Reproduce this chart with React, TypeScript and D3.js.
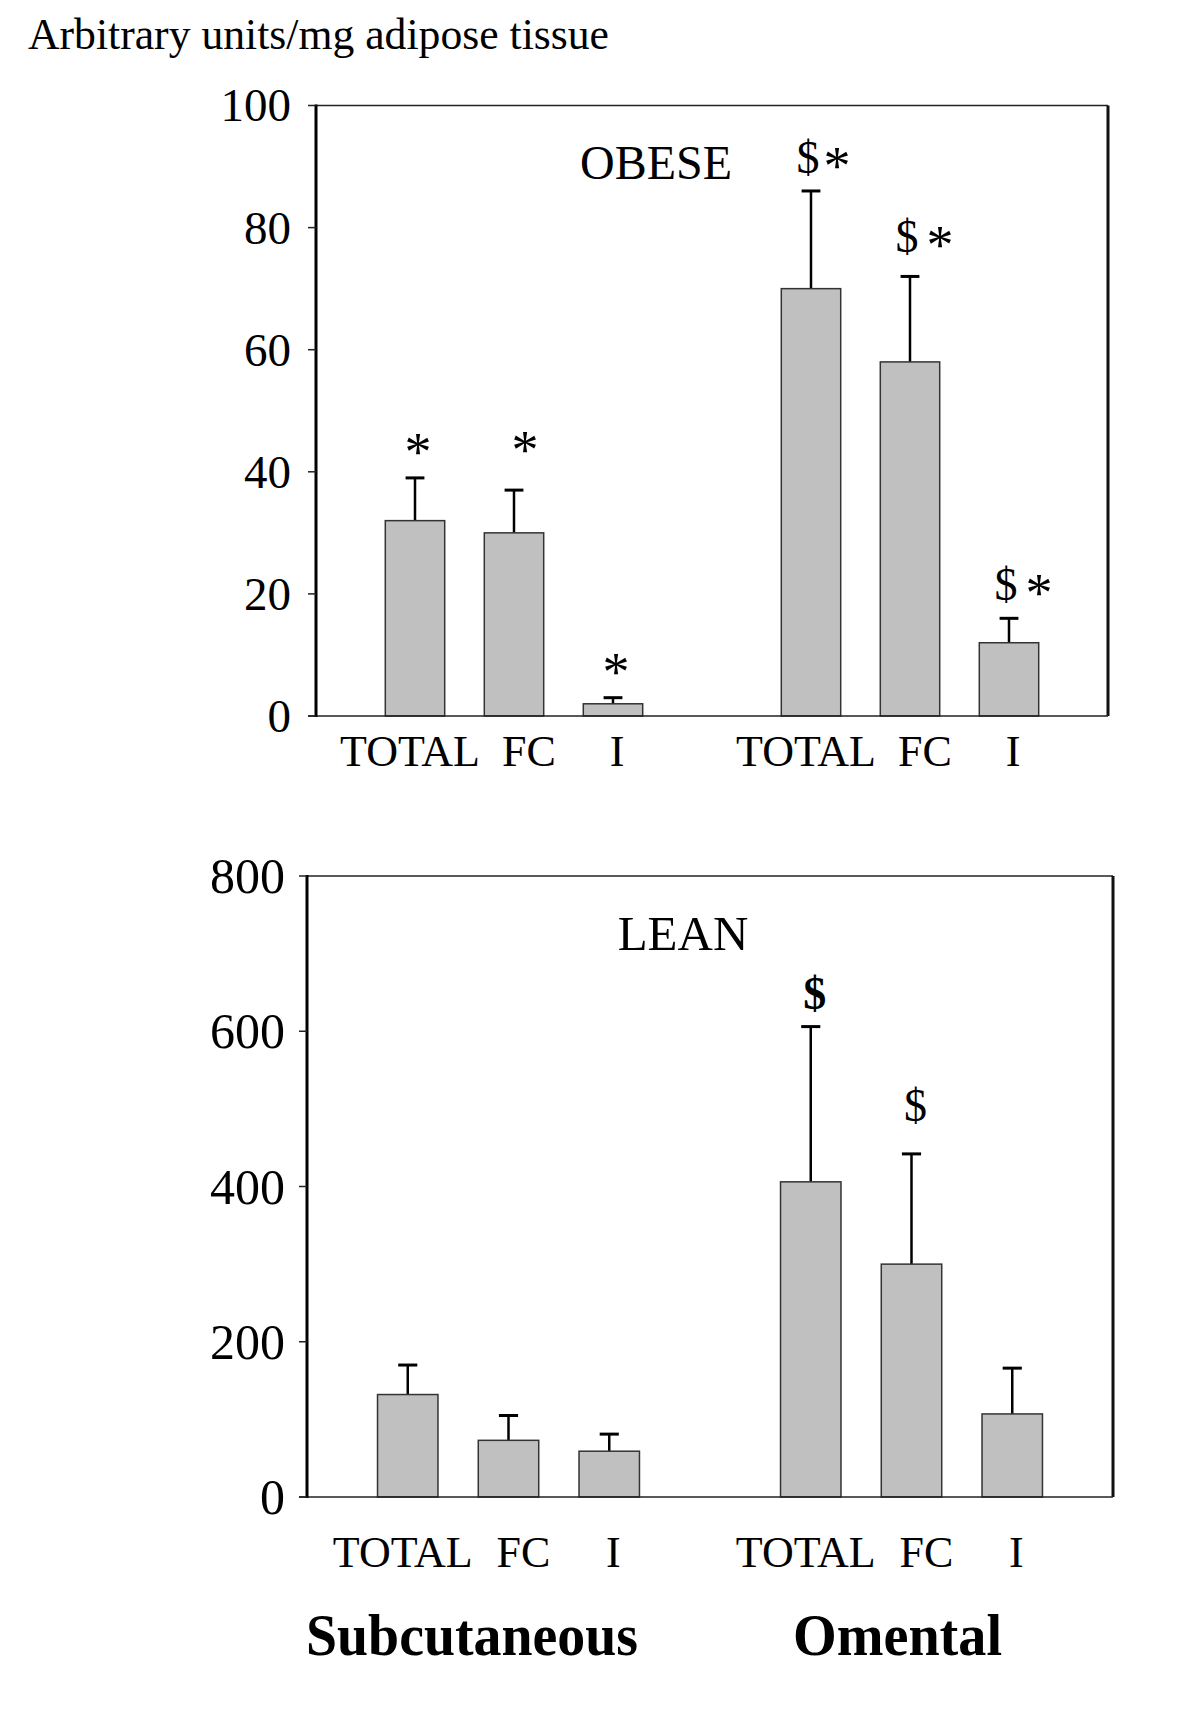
import React from "react";
import * as d3 from "d3";

// ---- data ----
const categories = ["TOTAL", "FC", "I"];
const depots = ["Subcutaneous", "Omental"];
const yAxisTitle = "Arbitrary units/mg adipose tissue";

const obeseTicks = [0, 20, 40, 60, 80, 100];
const obeseSubcut = [32, 30, 2];
const obeseSubcutErr = [7, 7, 1];
const obeseOmental = [70, 58, 12];
const obeseOmentalErr = [16, 14, 4];
const obeseSubcutSig = ["*", "*", "*"];
const obeseOmentalSig = ["$*", "$ *", "$ *"];

const leanTicks = [0, 200, 400, 600, 800];
const leanSubcut = [132, 73, 59];
const leanSubcutErr = [38, 32, 22];
const leanOmental = [406, 300, 107];
const leanOmentalErr = [200, 142, 59];
const leanSubcutSig = ["", "", ""];
const leanOmentalSig = ["$b", "$", ""];

// ---- layout ----
const FONT = "'Liberation Serif', 'Times New Roman', serif";

type PanelCfg = {
  name: string;
  nameX: number;
  nameY: number;
  nameSize: number;
  left: number;
  right: number;
  top: number;
  bottom: number;
  max: number;
  ticks: number[];
  tickSize: number;
  tickLabelGap: number;
  labelY: number;
  values: number[][];
  errs: number[][];
  sigs: string[][];
  sigNudgeY: number[][];
};

const panels: PanelCfg[] = [
  {
    name: "OBESE",
    nameX: 656,
    nameY: 179,
    nameSize: 48,
    left: 316,
    right: 1108,
    top: 105.5,
    bottom: 716,
    max: 100,
    ticks: obeseTicks,
    tickSize: 47,
    tickLabelGap: 25,
    labelY: 766,
    values: [obeseSubcut, obeseOmental],
    errs: [obeseSubcutErr, obeseOmentalErr],
    sigs: [obeseSubcutSig, obeseOmentalSig],
    sigNudgeY: [
      [0, -14, 0],
      [0, -6, 0],
    ],
  },
  {
    name: "LEAN",
    nameX: 683,
    nameY: 950,
    nameSize: 49,
    left: 307,
    right: 1113,
    top: 876,
    bottom: 1497,
    max: 800,
    ticks: leanTicks,
    tickSize: 50,
    tickLabelGap: 22,
    labelY: 1567,
    values: [leanSubcut, leanOmental],
    errs: [leanSubcutErr, leanOmentalErr],
    sigs: [leanSubcutSig, leanOmentalSig],
    sigNudgeY: [
      [0, 0, 0],
      [0, -15, 0],
    ],
  },
];

const labelDx = [-5, 15, 4];

function Panel({ p }: { p: PanelCfg }) {
  const x = d3.scaleLinear().domain([0, 8]).range([p.left, p.right]);
  const y = d3.scaleLinear().domain([0, p.max]).range([p.bottom, p.top]);
  const step = x(1) - x(0);
  const bw = step * 0.6;
  const capW = step * 0.19;
  const items: any[] = [];
  depots.forEach((dep, di) => {
    categories.forEach((cat, ci) => {
      const slot = di * 4 + ci + 1;
      items.push({
        key: `${dep}-${cat}`,
        cat,
        ci,
        cx: x(slot),
        v: p.values[di][ci],
        e: p.errs[di][ci],
        sig: p.sigs[di][ci],
        nudge: p.sigNudgeY[di][ci],
      });
    });
  });
  return (
    <g>
      {/* frame */}
      <line x1={p.left} x2={p.right} y1={y(p.max)} y2={y(p.max)} stroke="#222" strokeWidth={1.5} />
      <line x1={p.right} x2={p.right} y1={y(p.max)} y2={y(0)} stroke="#111" strokeWidth={3} />
      {/* bars */}
      {items.map((d) => (
        <g key={d.key}>
          <line x1={d.cx} x2={d.cx} y1={y(d.v)} y2={y(d.v + d.e)} stroke="#000" strokeWidth={2.5} />
          <line x1={d.cx - capW / 2} x2={d.cx + capW / 2} y1={y(d.v + d.e)} y2={y(d.v + d.e)} stroke="#000" strokeWidth={3} />
          <rect x={d.cx - bw / 2} y={y(d.v)} width={bw} height={y(0) - y(d.v)} fill="#c0c0c0" stroke="#333" strokeWidth={1.5} />
        </g>
      ))}
      {/* x axis line */}
      <line x1={p.left - 8} x2={p.right} y1={y(0)} y2={y(0)} stroke="#222" strokeWidth={1.5} />
      {/* y axis */}
      <line x1={p.left} x2={p.left} y1={y(p.max) - 1} y2={y(0) + 1} stroke="#000" strokeWidth={3} />
      {p.ticks.map((t) => (
        <g key={t}>
          <line x1={p.left - 8} x2={p.left} y1={y(t)} y2={y(t)} stroke="#222" strokeWidth={1.5} />
          <text x={p.left - p.tickLabelGap} y={y(t)} dy="0.34em" textAnchor="end" fontSize={p.tickSize} fontFamily={FONT}>
            {t}
          </text>
        </g>
      ))}
      {/* category labels */}
      {items.map((d) => (
        <text key={"l" + d.key} x={d.cx + labelDx[d.ci]} y={p.labelY} textAnchor="middle" fontSize={44} fontFamily={FONT}>
          {d.cat}
        </text>
      ))}
      {/* significance marks */}
      {items.map((d) => {
        if (!d.sig) return null;
        const top = y(d.v + d.e);
        const c = top - 33 + d.nudge;
        if (d.sig === "*") {
          return (
            <text key={"s" + d.key} x={d.cx + (d.ci === 1 ? 11 : 3)} y={c + 25} textAnchor="middle" fontSize={54} fontFamily={FONT}>
              *
            </text>
          );
        }
        const bold = d.sig.endsWith("b");
        const hasStar = d.sig.includes("*");
        const gap = d.sig.includes(" ") ? 33 : 29;
        const sx = hasStar ? d.cx - 3 : d.cx + 4;
        return (
          <g key={"s" + d.key}>
            <text x={sx} y={c + 15} textAnchor="middle" fontSize={46} fontWeight={bold ? "bold" : "normal"} fontFamily={FONT}>
              $
            </text>
            {hasStar && (
              <text x={sx + gap} y={c + 26} textAnchor="middle" fontSize={54} fontFamily={FONT}>
                *
              </text>
            )}
          </g>
        );
      })}
      <text x={p.nameX} y={p.nameY} textAnchor="middle" fontSize={p.nameSize} fontFamily={FONT}>
        {p.name}
      </text>
    </g>
  );
}

export default function App() {
  return (
    <svg
      width={1200}
      height={1725}
      viewBox="0 0 1200 1725"
      style={{ position: "absolute", left: 0, top: 0, background: "#fff" }}
    >
      <rect x={0} y={0} width={1200} height={1725} fill="#fff" />
      <text x={28} y={49} fontSize={44} fontFamily={FONT} textLength={581} lengthAdjust="spacingAndGlyphs">
        {yAxisTitle}
      </text>
      {panels.map((p) => (
        <Panel key={p.name} p={p} />
      ))}
      <text x={306} y={1655} fontSize={59} fontWeight="bold" fontFamily={FONT} textLength={332} lengthAdjust="spacingAndGlyphs">
        {depots[0]}
      </text>
      <text x={793} y={1655} fontSize={59} fontWeight="bold" fontFamily={FONT} textLength={209} lengthAdjust="spacingAndGlyphs">
        {depots[1]}
      </text>
    </svg>
  );
}
